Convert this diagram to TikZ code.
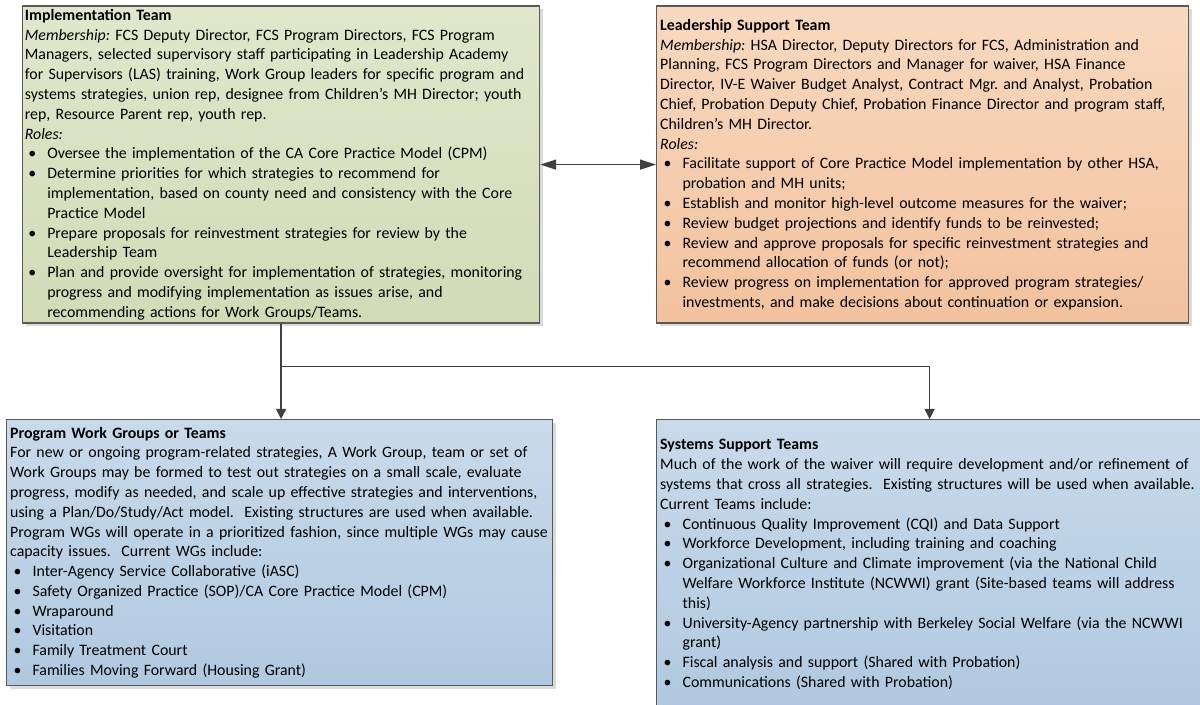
\documentclass[tikz,border=0pt]{standalone}
\usepackage{fontspec}
\setmainfont{Carlito}
\usetikzlibrary{arrows.meta,calc,shadows}
\definecolor{implTop}{HTML}{E0E7CC}
\definecolor{implBot}{HTML}{D2DBB6}
\definecolor{leadTop}{HTML}{F8D9BF}
\definecolor{leadBot}{HTML}{F3C29E}
\definecolor{teamTop}{HTML}{C9DAEA}
\definecolor{teamBot}{HTML}{B0C9E0}
\definecolor{boxline}{HTML}{595959}
\definecolor{linkgray}{HTML}{404040}
\setlength{\parindent}{0pt}
\setlength{\parskip}{0pt}
\frenchspacing
% bullet line with hanging indent
\newcommand{\bul}{\par\noindent\hangindent=16.8pt\hangafter=1\makebox[16.8pt][l]{\hspace{2.6pt}\textbullet}}
% let a line run a little past the text width
\newcommand{\loose}{\rightskip=-10pt plus 1fil\relax}

\begin{document}
\begin{tikzpicture}[x=0.75pt, y=-0.75pt, every node/.style={font=\fontsize{11.9}{14.85}\selectfont},
  teambox/.style={draw=boxline, line width=0.9pt, anchor=north west, align=left, inner xsep=2.7pt, inner ysep=1pt,
    drop shadow={shadow xshift=2.2pt, shadow yshift=-2.2pt, fill=black!14, opacity=1}},
  link/.style={draw=linkgray, line width=1pt}]
\useasboundingbox (0,0) rectangle (1200,705);
\clip (0,0) rectangle (1200,705);

\node[teambox, inner xsep=1.7pt, top color=implTop, bottom color=implBot, minimum width=387.75pt, minimum height=237.75pt, text width=384.35pt] (impl) at (22,5.5) {\loose
\textbf{Implementation Team}\par
\textit{Membership:} FCS Deputy Director, FCS Program Directors, FCS Program\newline
Managers, selected supervisory staff participating in Leadership Academy\newline
for Supervisors (LAS) training, Work Group leaders for specific program and\newline
systems strategies, union rep, designee from Children’s MH Director; youth\newline
rep, Resource Parent rep, youth rep.\par
\textit{Roles:}
\bul Oversee the implementation of the CA Core Practice Model (CPM)
\bul Determine priorities for which strategies to recommend for\newline implementation, based on county need and consistency with the Core\newline Practice Model
\bul Prepare proposals for reinvestment strategies for review by the\newline Leadership Team
\bul Plan and provide oversight for implementation of strategies, monitoring\newline progress and modifying implementation as issues arise, and\newline recommending actions for Work Groups/Teams.\par};

\node[teambox, top color=leadTop, bottom color=leadBot, minimum width=399pt, minimum height=237.75pt, text width=393.6pt] (lead) at (656,5.5) {\loose
\textbf{Leadership Support Team}\par
\textit{Membership:} HSA Director, Deputy Directors for FCS, Administration and\newline
Planning, FCS Program Directors and Manager for waiver, HSA Finance\newline
Director, IV-E Waiver Budget Analyst, Contract Mgr. and Analyst, Probation\newline
Chief, Probation Deputy Chief, Probation Finance Director and program staff,\newline
Children’s MH Director.\par
\textit{Roles:}
\bul Facilitate support of Core Practice Model implementation by other HSA,\newline probation and MH units;
\bul Establish and monitor high-level outcome measures for the waiver;
\bul Review budget projections and identify funds to be reinvested;
\bul Review and approve proposals for specific reinvestment strategies and\newline recommend allocation of funds (or not);
\bul Review progress on implementation for approved program strategies/\newline investments, and make decisions about continuation or expansion.\par};

\node[teambox, top color=teamTop, bottom color=teamBot, minimum width=409.5pt, minimum height=199.5pt, text width=404.1pt] (prog) at (6,419) {\loose
\textbf{Program Work Groups or Teams}\par
For new or ongoing program-related strategies, A Work Group, team or set of\newline
Work Groups may be formed to test out strategies on a small scale, evaluate\newline
progress, modify as needed, and scale up effective strategies and interventions,\newline
using a Plan/Do/Study/Act model.\ \ Existing structures are used when available.\newline
Program WGs will operate in a prioritized fashion, since multiple WGs may cause\newline
capacity issues.\ \ Current WGs include:
\bul Inter-Agency Service Collaborative (iASC)
\bul Safety Organized Practice (SOP)/CA Core Practice Model (CPM)
\bul Wraparound
\bul Visitation
\bul Family Treatment Court
\bul Families Moving Forward (Housing Grant)\par};

\node[teambox, top color=teamTop, bottom color=teamBot, minimum width=409.5pt, minimum height=217.5pt, text width=404.1pt] (sys) at (656,419) {\loose
\textbf{Systems Support Teams}\par
Much of the work of the waiver will require development and/or refinement of\newline
systems that cross all strategies.\ \ Existing structures will be used when available.\newline
Current Teams include:
\bul Continuous Quality Improvement (CQI) and Data Support
\bul Workforce Development, including training and coaching
\bul Organizational Culture and Climate improvement (via the National Child\newline Welfare Workforce Institute (NCWWI) grant (Site-based teams will address\newline this)
\bul University-Agency partnership with Berkeley Social Welfare (via the NCWWI\newline grant)
\bul Fiscal analysis and support (Shared with Probation)
\bul Communications (Shared with Probation)\par};

% connectors
\coordinate (fork) at ($(impl.south)+(0,42.5)$);
\draw[link, {Triangle[length=12pt,width=7.5pt]}-{Triangle[length=12pt,width=7.5pt]}] (impl.east) -- (lead.west);
\draw[link, -{Triangle[length=7.5pt,width=7.5pt]}] (impl.south) -- (impl.south |- prog.north);
\draw[link, -{Triangle[length=7.5pt,width=7.5pt]}] (fork) -| (sys.north);
\end{tikzpicture}
\end{document}
